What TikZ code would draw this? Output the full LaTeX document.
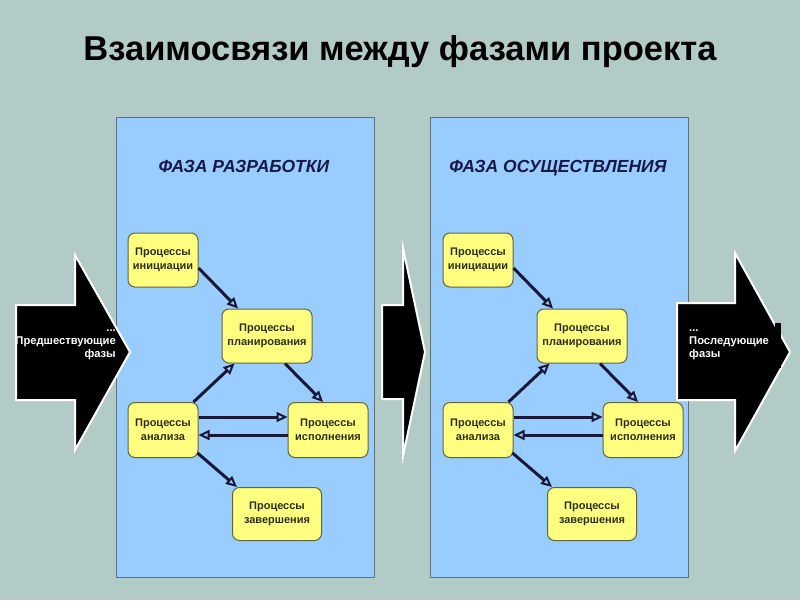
\documentclass[tikz,border=0pt]{standalone}
\usepackage{fontspec}
\setmainfont{Liberation Sans}
\usetikzlibrary{arrows.meta}
\definecolor{bgc}{RGB}{178,203,199}
\definecolor{panelc}{RGB}{153,204,255}
\definecolor{panelb}{RGB}{90,115,125}
\definecolor{boxc}{RGB}{255,255,128}
\definecolor{boxb}{RGB}{100,100,60}
\definecolor{boxt}{RGB}{45,45,20}
\definecolor{linec}{RGB}{25,25,55}
\definecolor{headc}{RGB}{25,25,70}
\tikzset{
  panel/.style={draw=panelb, line width=0.8pt, fill=panelc},
  procbox/.style={draw=boxb, line width=1pt, fill=boxc, rounded corners=7pt,
    inner sep=0pt, align=center, text=boxt,
    font=\bfseries\fontsize{11}{13.5}\selectfont},
  conn/.style={draw=linec, line width=3pt,
    -{Triangle[open, length=11pt, width=10pt, line width=2pt]}},
  bigarrow/.style={fill=black, draw=white, line width=2pt, line join=miter},
  arrowtext/.style={text=white, font=\bfseries\fontsize{11.2}{12.8}\selectfont, inner sep=0pt},
  phasehead/.style={text=headc, anchor=base, font=\bfseries\itshape\fontsize{17.5}{20}\selectfont}
}
\begin{document}
\begin{tikzpicture}[x=1pt,y=-1pt]
\fill[bgc] (0,0) rectangle (800,600);
\useasboundingbox (0,0) rectangle (800,600);

\node[font=\bfseries\fontsize{34.5}{38}\selectfont, text=black, anchor=base] (title) at (400,60) {Взаимосвязи между фазами проекта};

% panels
\draw[panel] (116,117) rectangle (374,577);
\draw[panel] (430,117) rectangle (688,577);
\node[phasehead] (h1) at (244,172) {ФАЗА РАЗРАБОТКИ};
\node[phasehead] (h2) at (558,172) {ФАЗА ОСУЩЕСТВЛЕНИЯ};

% big arrows
\draw[bigarrow] (16,305) -- (75,305) -- (75,255) -- (130,352) -- (75,450) -- (75,400) -- (16,400) -- cycle;
\draw[bigarrow] (382,305) -- (403,305) -- (403,248) -- (425,352) -- (403,456) -- (403,399) -- (382,399) -- cycle;
\draw[bigarrow] (677,303) -- (735,303) -- (735,253) -- (790,352) -- (735,451) -- (735,400) -- (677,400) -- cycle;
\fill[black] (775,323) rectangle (781,368);

\node[arrowtext, align=right, anchor=east] (prev) at (116,345) {...\\Предшествующие\\фазы};
\node[arrowtext, align=left, anchor=west] (next) at (689,345) {...\\Последующие\\фазы};

\foreach \dx/\p in {0/a, 315/b} {
  \begin{scope}[shift={(\dx,0)}]
    \node[procbox, minimum width=70pt, minimum height=54pt] (init\p) at (163,260) {Процессы\\инициации};
    \node[procbox, minimum width=90pt, minimum height=54pt] (plan\p) at (267,336) {Процессы\\планирования};
    \node[procbox, minimum width=70pt, minimum height=55pt] (ana\p) at (163,430) {Процессы\\анализа};
    \node[procbox, minimum width=80pt, minimum height=55pt] (exec\p) at (328,430) {Процессы\\исполнения};
    \node[procbox, minimum width=89pt, minimum height=53pt] (comp\p) at (277,514) {Процессы\\завершения};
  \end{scope}
  \draw[conn] ([shift={(0,8)}]init\p.east) -- ([shift={(-29,0)}]plan\p.north);
  \draw[conn] ([shift={(-5,0)}]ana\p.north east) -- ([shift={(13,0)}]plan\p.south west);
  \draw[conn] ([shift={(18,0)}]plan\p.south) -- ([shift={(-5,0)}]exec\p.north);
  \draw[conn] ([shift={(0,-13)}]ana\p.east) -- ([shift={(0,-13)}]exec\p.west);
  \draw[conn] ([shift={(0,5)}]exec\p.west) -- ([shift={(0,5)}]ana\p.east);
  \draw[conn] ([shift={(-1,-5)}]ana\p.south east) -- ([shift={(5,0)}]comp\p.north west);
}
\end{tikzpicture}
\end{document}
